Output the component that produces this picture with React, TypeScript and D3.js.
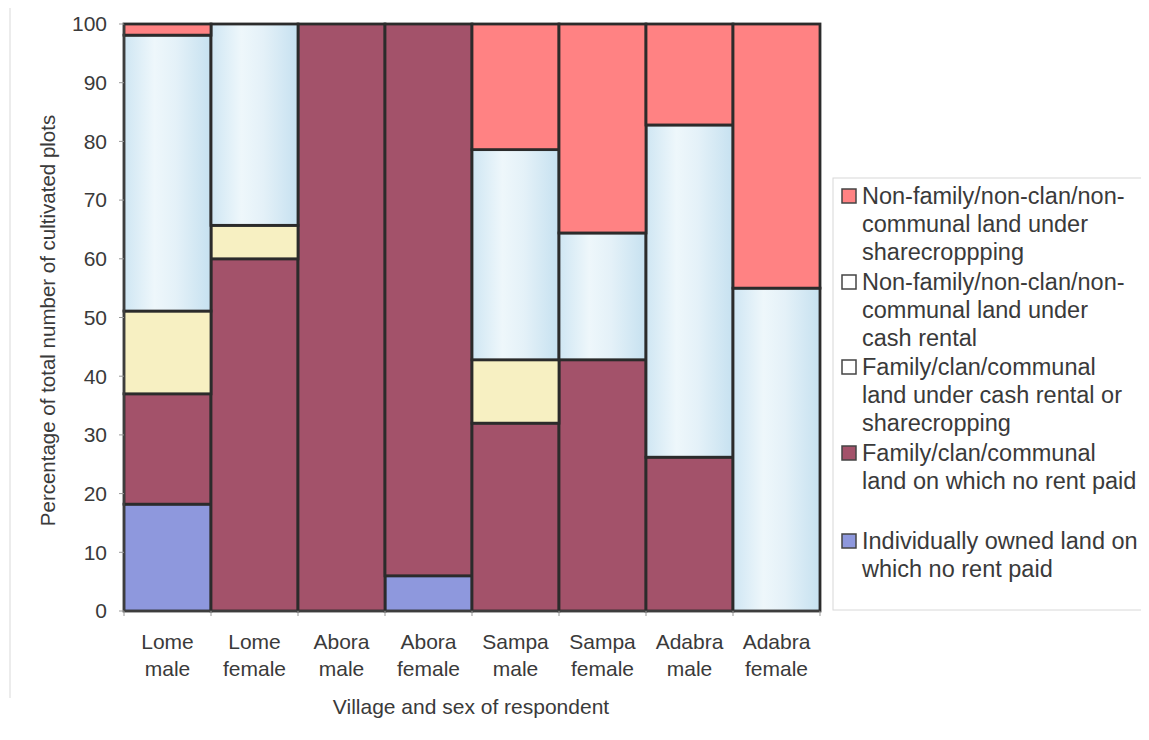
import React from "react";
import * as d3 from "d3";

const categories = [
  ["Lome", "male"],
  ["Lome", "female"],
  ["Abora", "male"],
  ["Abora", "female"],
  ["Sampa", "male"],
  ["Sampa", "female"],
  ["Adabra", "male"],
  ["Adabra", "female"],
];

// stack order bottom → top
const individual = [18.2, 0, 0, 6, 0, 0, 0, 0];
const familyNoRent = [18.8, 60, 100, 94, 32, 42.8, 26.2, 0];
const familyRental = [14.1, 5.7, 0, 0, 10.8, 0, 0, 0];
const cashRental = [47, 34.3, 0, 0, 35.8, 21.6, 56.6, 55];
const sharecropping = [1.9, 0, 0, 0, 21.4, 35.6, 17.2, 45];

const yTicks = [0, 10, 20, 30, 40, 50, 60, 70, 80, 90, 100];

const seriesDefs = [
  { key: "individual", values: individual, fill: "#8e98dd" },
  { key: "familyNoRent", values: familyNoRent, fill: "#a3526a" },
  { key: "familyRental", values: familyRental, fill: "#f7f0c2" },
  { key: "cashRental", values: cashRental, fill: "url(#water)" },
  { key: "sharecropping", values: sharecropping, fill: "#ff8283" },
];

const legendItems = [
  { lines: ["Non-family/non-clan/non-", "communal land under", "sharecroppping"], fill: "#ff8283" },
  { lines: ["Non-family/non-clan/non-", "communal land under", "cash rental"], fill: "#ffffff" },
  { lines: ["Family/clan/communal", "land under cash rental or", "sharecropping"], fill: "#ffffff" },
  { lines: ["Family/clan/communal", "land on which no rent paid"], fill: "#a3526a" },
  { lines: ["Individually owned land on", "which no rent paid"], fill: "#8e98dd" },
];

export default function App() {
  const W = 1149, H = 740;
  const left = 124, right = 820, top = 24, bottom = 611;
  const x = d3.scaleBand<number>().domain(d3.range(categories.length)).range([left, right]).padding(0);
  const y = d3.scaleLinear().domain([0, 100]).range([bottom, top]);

  const stackData = categories.map((_, i) => {
    const o: any = { i };
    seriesDefs.forEach((s) => (o[s.key] = s.values[i]));
    return o;
  });
  const stack = d3.stack<any>().keys(seriesDefs.map((s) => s.key));
  const stacked = stack(stackData);

  const font = "'Liberation Sans', Arial, sans-serif";
  const textColor = "#3a3a3a";

  const legendLineH = 28;
  const legendStarts = [196, 282, 367, 453, 541];

  return (
    <div style={{ margin: -8 }}>
      <svg width={W} height={H} style={{ display: "block", background: "#ffffff" }} fontFamily={font}>
        <defs>
          <linearGradient id="water" x1="0" x2="1" y1="0" y2="0">
            <stop offset="0" stopColor="#cfe6f3" />
            <stop offset="0.35" stopColor="#eef7fb" />
            <stop offset="0.6" stopColor="#e4f1f8" />
            <stop offset="1" stopColor="#c6e1f0" />
          </linearGradient>
        </defs>
        <line x1={10} x2={10} y1={0} y2={698} stroke="#e6e6e6" strokeWidth={1.5} />
        {/* bars */}
        {stacked.map((layer, li) =>
          layer.map((d, i) => {
            const h = y(d[0]) - y(d[1]);
            if (h <= 0.01) return null;
            return (
              <rect
                key={`${li}-${i}`}
                x={x(i)!}
                y={y(d[1])}
                width={x.bandwidth()}
                height={h}
                fill={seriesDefs[li].fill}
                stroke="#2b2b2b"
                strokeWidth={2.8}
              />
            );
          })
        )}
        {/* axes */}
        <line x1={left} x2={left} y1={top} y2={bottom} stroke="#444" strokeWidth={1.5} />
        <line x1={left} x2={right} y1={bottom} y2={bottom} stroke="#444" strokeWidth={1.5} />
        {yTicks.map((t) => (
          <g key={t}>
            <line x1={left - 5} x2={left} y1={y(t)} y2={y(t)} stroke="#999" strokeWidth={1} />
            <text x={left - 17} y={y(t)} dy="0.35em" textAnchor="end" fontSize={21} fill={textColor}>
              {t}
            </text>
          </g>
        ))}
        {categories.map((c, i) => (
          <g key={i}>
            <line x1={x(i)!} x2={x(i)!} y1={bottom} y2={bottom + 5} stroke="#999" strokeWidth={1} />
            <text x={x(i)! + x.bandwidth() / 2} y={649} textAnchor="middle" fontSize={21} fill={textColor}>
              {c[0]}
            </text>
            <text x={x(i)! + x.bandwidth() / 2} y={676} textAnchor="middle" fontSize={21} fill={textColor}>
              {c[1]}
            </text>
          </g>
        ))}
        <line x1={right} x2={right} y1={bottom} y2={bottom + 5} stroke="#999" strokeWidth={1} />
        <text x={471} y={714} textAnchor="middle" fontSize={21} fill={textColor}>
          Village and sex of respondent
        </text>
        <text
          transform={`translate(55, ${(top + bottom) / 2 + 3}) rotate(-90)`}
          textAnchor="middle"
          fontSize={20.5}
          fill={textColor}
        >
          Percentage of total number of cultivated plots
        </text>
        {/* legend */}
        <rect x={833} y={178} width={330} height={432} fill="#ffffff" stroke="#d8d8d8" strokeWidth={1} />
        {legendItems.map((it, k) => (
          <g key={k}>
            <rect
              x={842}
              y={legendStarts[k] - 7}
              width={14}
              height={14}
              fill={it.fill}
              stroke="#444"
              strokeWidth={1.5}
            />
            {it.lines.map((ln, j) => (
              <text key={j} x={862} y={legendStarts[k] + j * legendLineH} dy="0.35em" fontSize={23.5} fill={textColor}>
                {ln}
              </text>
            ))}
          </g>
        ))}
      </svg>
    </div>
  );
}
